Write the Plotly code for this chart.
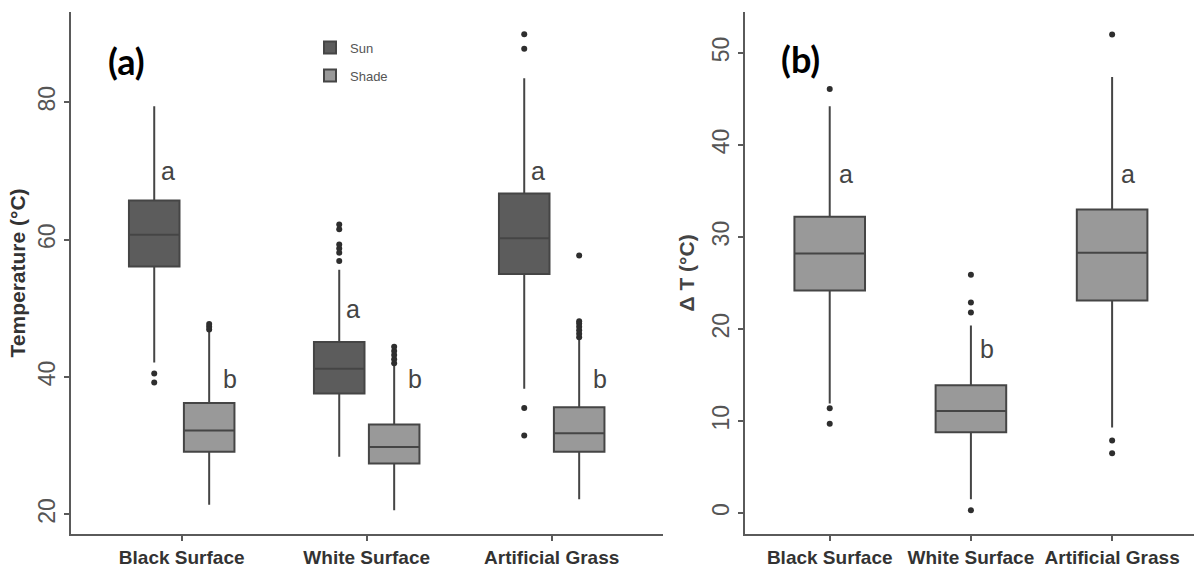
import plotly.graph_objects as go

categories = ["Black Surface", "White Surface", "Artificial Grass"]

# Panel (a): Temperature (°C), Sun vs Shade
sun_q1 = [56.1, 37.6, 55.0]
sun_med = [60.7, 41.2, 60.2]
sun_q3 = [65.7, 45.1, 66.7]
sun_low = [42.1, 28.4, 38.3]
sun_high = [79.4, 55.6, 83.5]
sun_outliers = [[40.5, 39.2], [62.2, 61.5, 59.3, 58.7, 58.1, 56.9], [89.9, 87.8, 35.5, 31.5]]

shade_q1 = [29.1, 27.4, 29.1]
shade_med = [32.2, 29.8, 31.8]
shade_q3 = [36.2, 33.1, 35.6]
shade_low = [21.4, 20.6, 22.2]
shade_high = [46.6, 41.6, 45.4]
shade_outliers = [[46.9, 47.3, 47.7], [42.0, 42.6, 43.2, 43.8, 44.4],
                  [45.8, 46.3, 46.8, 47.3, 47.8, 48.1, 57.7]]

# Panel (b): ΔT (°C)
dt_q1 = [24.2, 8.8, 23.1]
dt_med = [28.2, 11.1, 28.3]
dt_q3 = [32.2, 13.9, 33.0]
dt_low = [11.9, 1.5, 9.3]
dt_high = [44.2, 20.4, 47.4]
dt_outliers = [[46.1, 11.4, 9.7], [25.9, 22.9, 21.8, 0.3], [52.0, 7.9, 6.5]]

# significance letters
sun_letters = ["a", "a", "a"]
sun_letter_y = [68.5, 48.4, 68.5]
shade_letters = ["b", "b", "b"]
shade_letter_y = [38.3, 38.3, 38.3]
dt_letters = ["a", "b", "a"]
dt_letter_y = [35.8, 16.8, 35.8]

left_ticks = [20, 40, 60, 80]
right_ticks = [0, 10, 20, 30, 40, 50]

FONT = "Liberation Sans, Arial, sans-serif"
AXIS_COL = "#5a5a5a"
SUN_FILL = "#5c5c5c"
SHADE_FILL = "#999999"
BOX_LINE = "#454545"
PT_COL = "#2e2e2e"

fig = go.Figure()

common = dict(boxpoints="all", jitter=0, pointpos=0, whiskerwidth=0,
              marker=dict(color=PT_COL, size=6), line=dict(color=BOX_LINE, width=2),
              hoverinfo="skip")

fig.add_trace(go.Box(
    name="Sun", x=categories, q1=sun_q1, median=sun_med, q3=sun_q3,
    lowerfence=sun_low, upperfence=sun_high, y=sun_outliers,
    fillcolor=SUN_FILL, xaxis="x", yaxis="y",
    alignmentgroup="a", offsetgroup="sun", legendgroup="sun", **common))
fig.add_trace(go.Box(
    name="Shade", x=categories, q1=shade_q1, median=shade_med, q3=shade_q3,
    lowerfence=shade_low, upperfence=shade_high, y=shade_outliers,
    fillcolor=SHADE_FILL, xaxis="x", yaxis="y",
    alignmentgroup="a", offsetgroup="shade", legendgroup="shade", **common))
fig.add_trace(go.Box(
    name="ΔT", x=categories, q1=dt_q1, median=dt_med, q3=dt_q3,
    lowerfence=dt_low, upperfence=dt_high, y=dt_outliers,
    fillcolor=SHADE_FILL, xaxis="x2", yaxis="y2", width=0.5,
    showlegend=False, **common))

annotations = []
letter_font = dict(family=FONT, size=25, color="#444444")
for i, (t, yv) in enumerate(zip(sun_letters, sun_letter_y)):
    annotations.append(dict(x=i - 0.122, y=yv, xref="x", yref="y", text=t, showarrow=False,
                            xanchor="left", yanchor="bottom", yshift=-6, font=letter_font))
for i, (t, yv) in enumerate(zip(shade_letters, shade_letter_y)):
    annotations.append(dict(x=i + 0.21, y=yv, xref="x", yref="y", text=t, showarrow=False,
                            xanchor="left", yanchor="bottom", yshift=-6, font=letter_font))
for i, (t, yv) in enumerate(zip(dt_letters, dt_letter_y)):
    annotations.append(dict(x=i + 0.05, y=yv, xref="x2", yref="y2", text=t, showarrow=False,
                            xanchor="left", yanchor="bottom", yshift=-6, font=letter_font))

panel_font = dict(family="Lato, Liberation Sans, sans-serif", size=36, color="#000000", weight="bold")
annotations.append(dict(x=127 / 1194, y=1 - 62 / 568, xref="paper", yref="paper", text="(a)",
                        showarrow=False, xanchor="center", yanchor="middle", font=panel_font))
annotations.append(dict(x=800 / 1194, y=1 - 60 / 568, xref="paper", yref="paper", text="(b)",
                        showarrow=False, xanchor="center", yanchor="middle", font=panel_font))

xaxis_common = dict(type="category", showline=True, linecolor=AXIS_COL, linewidth=2,
                    ticks="outside", ticklen=5, tickwidth=2, tickcolor=AXIS_COL,
                    showgrid=False, zeroline=False,
                    tickfont=dict(family=FONT, size=19, color="#333333", weight="bold"))
yaxis_common = dict(showline=True, linecolor=AXIS_COL, linewidth=2,
                    ticks="outside", ticklen=5, tickwidth=2, tickcolor=AXIS_COL,
                    showgrid=False, zeroline=False, tickangle=-90,
                    tickfont=dict(family=FONT, size=23, color="#555555"))

fig.update_layout(
    width=1194, height=568,
    margin=dict(l=0, r=0, t=0, b=0),
    paper_bgcolor="white", plot_bgcolor="white",
    boxmode="group", boxgap=0.406, boxgroupgap=0.08,
    xaxis=dict(domain=[70.7 / 1194, 662.7 / 1194], range=[-0.6, 2.6], anchor="y",
               categoryorder="array", categoryarray=categories, **xaxis_common),
    yaxis=dict(domain=[28 / 568, 556.3 / 568], range=[17.1, 93.2], anchor="x",
               tickvals=left_ticks,
               title=dict(text="Temperature (°C)", standoff=2,
                          font=dict(family=FONT, size=21, color="#333333", weight="bold")),
               **yaxis_common),
    xaxis2=dict(domain=[745 / 1194, 1.0], range=[-0.6, 2.58], anchor="y2",
                categoryorder="array", categoryarray=categories, **xaxis_common),
    yaxis2=dict(domain=[28 / 568, 556.3 / 568], range=[-2.3, 54.5], anchor="x2",
                tickvals=right_ticks,
                title=dict(text="Δ T (°C)", standoff=7,
                           font=dict(family=FONT, size=21, color="#444444", weight="bold")),
                **yaxis_common),
    legend=dict(x=310 / 1194, y=1 - 33 / 568, xanchor="left", yanchor="top",
                bgcolor="rgba(0,0,0,0)", traceorder="grouped", tracegroupgap=8,
                font=dict(family=FONT, size=13, color="#555555")),
    annotations=annotations,
)

fig.write_html("out.html")
